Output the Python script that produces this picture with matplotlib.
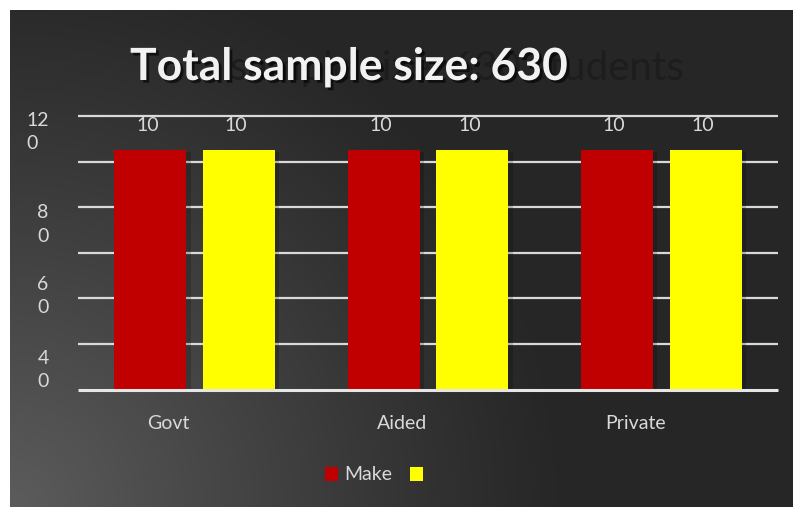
import numpy as np
import matplotlib
matplotlib.use("Agg")
import matplotlib.pyplot as plt
import matplotlib.patheffects as pe
import matplotlib.transforms as mtransforms
from matplotlib.patches import Patch

categories = ["Govt", "Aided", "Private"]
series_names = ["Make", ""]
make_values = [105, 105, 105]
second_values = [105, 105, 105]
data_label_text = ["10", "10"]  # labels appear truncated in the original
grid_values = [0, 20, 40, 60, 80, 100, 120]
ytick_values = [115.0, 74.5, 43.0, 10.5]
ytick_labels = ["12\n0", "8\n0", "6\n0", "4\n0"]
title_text = "Total sample size: 630"
ghost_text = "sample size: 630 students"

colors = ["#C00000", "#FFFF00"]
txt = "#D9D9D9"
plt.rcParams["font.family"] = ["Lato", "DejaVu Sans"]

W, H = 793, 507
fig = plt.figure(figsize=(W / 100, H / 100), dpi=100, facecolor="white")

# background with radial gradient from bottom-left
bg = fig.add_axes([10 / W, 0, (W - 10) / W, (H - 10) / H])
bg.axis("off")
nx, ny = 783, 497
xx, yy = np.meshgrid(np.arange(nx), np.arange(ny))
r = np.sqrt(xx ** 2 + (ny - yy) ** 2)
t = np.clip(1 - r / 560.0, 0, 1) ** 1.1
dark, light = 0x26 / 255, 0x5c / 255
val = dark + (light - dark) * t
img = np.dstack([val, val, val])
bg.imshow(img, aspect="auto", extent=[0, 1, 0, 1], origin="upper")
bg.set_xlim(0, 1)
bg.set_ylim(0, 1)

ax = fig.add_axes([78 / W, (H - 389.6) / H, 700 / W, (389.6 - 116) / H])
ax.set_facecolor("none")
ax.set_xlim(-0.5, 2.5)
ax.set_ylim(0, 120)
for s in ax.spines.values():
    s.set_visible(False)

ax.hlines(grid_values[1:], -0.5, 2.5, colors="#D9D9D9", linewidth=1.6, clip_on=False, zorder=1)
ax.hlines([0], -0.5, 2.5, colors="#E6E6E6", linewidth=2.2, clip_on=False, zorder=4)

x = np.arange(len(categories))
offs = [-0.19, 0.19]
width = 0.309
for vals, off, c, lab in zip([make_values, second_values], offs, colors, data_label_text):
    bars = ax.bar(x + off, vals, width=width, color=c, zorder=3,
                  path_effects=[pe.SimplePatchShadow(offset=(3, -1), shadow_rgbFace="black", alpha=0.18), pe.Normal()])
    for b in bars:
        ax.annotate(lab, (b.get_x() + b.get_width() / 2 - 0.012, b.get_height()),
                    xytext=(0, 25), textcoords="offset pixels", ha="center", va="center",
                    color=txt, fontsize=14)

ax.set_yticks(ytick_values)
ax.set_yticklabels(ytick_labels, color=txt, fontsize=14, linespacing=1.45,
                   ha="right", multialignment="left")
ax.tick_params(axis="y", length=0, pad=21)
ax.set_xticks(x)
ax.set_xticklabels(categories, color=txt, fontsize=14)
ax.tick_params(axis="x", length=0, pad=18.5)
shift = mtransforms.ScaledTranslation(-26 / 100, 0, fig.dpi_scale_trans)
for lbl in ax.get_xticklabels():
    lbl.set_transform(lbl.get_transform() + shift)

# ghost title and main title
fig.text(684 / W, 1 - 80 / H, ghost_text, ha="right", va="baseline", fontsize=29,
         color="#1d1d1d", fontweight="normal")
fig.text(130 / W, 1 - 80 / H, title_text, ha="left", va="baseline", fontsize=32,
         color="#F2F2F2", fontweight="bold",
         path_effects=[pe.withSimplePatchShadow(offset=(2, -2), shadow_rgbFace="black", alpha=0.6)])

handles = [Patch(facecolor=c, edgecolor="none") for c in colors]
fig.legend(handles, series_names, loc="center", bbox_to_anchor=(377 / W, 1 - 475 / H),
           ncol=2, frameon=False, fontsize=14, labelcolor=txt,
           handlelength=0.7, handleheight=0.7, handletextpad=0.3, columnspacing=0.9)

fig.savefig("out.png", dpi=100, facecolor="white")
